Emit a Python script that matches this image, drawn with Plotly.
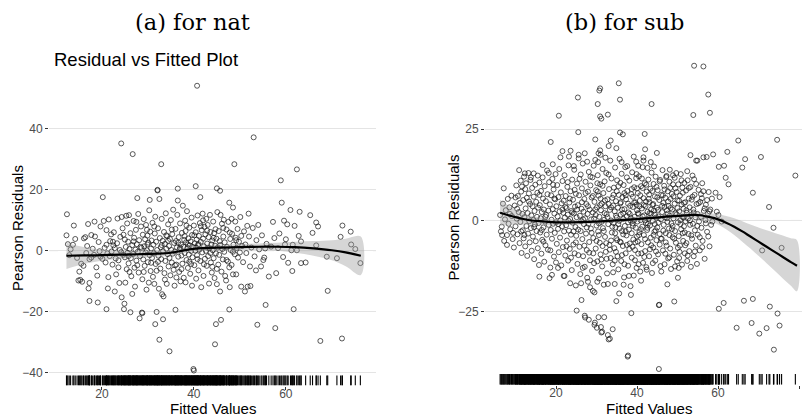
import plotly.graph_objects as go

# ---- national model: (fitted value, Pearson residual) ----
nat_points = [
    (12.3, 5.0), (12.4, 11.9), (12.6, 2.1), (12.9, -1.5), (13.2, 0.4), (13.7, 1.9), (13.9, 8.2), (14.2, 3.8),
    (14.6, -2.4), (14.9, -9.8), (15.1, -6.9), (15.3, -9.6), (15.5, -4.3), (15.7, -10.2),
    (16.0, -5.0), (16.1, 4.0), (16.4, 4.4), (16.6, -0.8), (16.8, 1.5), (17.0, 8.7), (17.1, -12.4), (17.3, -10.6),
    (17.3, -16.5), (17.3, -2.8), (17.7, -2.3), (17.7, 5.1), (18.0, 0.6), (18.3, -1.4), (18.4, 9.5), (18.5, 4.6),
    (18.8, -5.5), (19.0, -8.2), (19.1, -17.0), (19.3, 2.8), (19.5, -0.2), (19.7, 7.9), (19.7, -2.0), (20.1, -2.7),
    (20.2, 17.5), (20.4, 9.7), (20.6, 0.9), (20.8, -3.9), (21.0, 6.7), (21.0, 1.9), (21.0, -19.2),
    (21.2, -0.9), (21.3, -12.4), (21.4, -8.7), (21.5, 10.2), (21.7, -1.8), (21.8, 3.1), (22.0, 5.3), (22.1, -0.3),
    (22.3, -4.6), (22.5, 1.7), (22.6, 6.0), (22.8, -13.4), (22.8, 0.8), (23.0, -2.6), (23.1, -7.8), (23.3, 2.4),
    (23.4, 10.5), (23.6, -3.2), (23.8, -10.6), (23.9, 0.2), (24.0, 4.5), (24.2, 35.1), (24.2, -0.5), (24.3, 11.0),
    (24.3, -15.3), (24.5, 7.3), (24.6, -1.4), (24.8, -19.2), (24.9, -17.4), (25.0, -2.2), (25.0, 3.6), (25.1, -10.5),
    (25.2, 1.2), (25.3, 11.4), (25.4, -6.1),
    (25.5, 8.9), (25.6, -0.7), (25.7, 2.9), (25.8, -4.2), (25.9, 11.6), (26.0, 0.5), (26.2, -20.2), (26.2, 5.7),
    (26.3, -2.5), (26.4, -8.4), (26.6, -14.2), (26.6, 1.8), (26.7, 31.6), (26.8, -1.1), (26.9, 9.7), (27.0, 4.2),
    (27.1, -5.6), (27.2, -11.8), (27.3, 0.3), (27.4, 6.8), (27.5, -3.3), (27.6, 2.1), (27.7, 17.2), (27.8, -0.4),
    (27.9, 12.0), (28.0, -7.2), (28.1, 3.4), (28.2, -22.2), (28.3, -1.8), (28.5, 7.9), (28.6, 0.9), (28.7, -20.3),
    (28.8, -20.5), (28.8, -9.4), (28.9, 5.2), (29.0, -2.9), (29.1, 10.3), (29.2, 1.4), (29.3, -5.0), (29.4, 3.7),
    (29.5, -0.6), (29.6, 8.4), (29.7, -12.8), (29.8, 0.1), (29.9, 4.9), (30.0, -3.8), (30.1, 2.6), (30.2, -10.5),
    (30.3, 13.2), (30.4, 16.6), (30.4, -1.5), (30.5, 6.2), (30.6, -6.7), (30.7, 0.7), (30.8, 3.3), (30.9, -2.4),
    (31.0, 9.1), (31.1, -8.6), (31.2, 1.9), (31.3, -0.9), (31.4, -10.9), (31.5, 5.6), (31.6, -24.1), (31.6, 11.1),
    (31.7, -4.4), (31.8, 2.9), (31.9, -20.1), (32.0, 0.2), (32.1, 19.7), (32.1, 19.9), (32.2, 7.3), (32.3, -1.7),
    (32.4, -12.5), (32.5, 16.9), (32.5, -29.2), (32.6, 4.1), (32.7, -5.9), (32.8, 1.1), (32.9, 28.3), (32.9, -2.8),
    (33.0, 10.4), (33.1, -14.3), (33.2, 3.2), (33.3, -22.5), (33.3, -0.2), (33.4, -15.0),
    (33.5, 6.1), (33.6, -7.4), (33.7, 2.2), (33.8, -3.4), (33.9, 12.2), (34.0, 0.6), (34.1, -10.9), (34.2, 4.7),
    (34.3, -1.2), (34.4, 8.6), (34.5, -5.2), (34.6, 1.5), (34.7, -33.0), (34.7, -2.4), (34.8, 3.8), (34.9, -8.1),
    (35.0, 10.0), (35.1, 0.2), (35.2, -3.9), (35.3, 5.4), (35.4, -1.0), (35.5, 13.4), (35.6, -6.3), (35.7, 2.5),
    (35.8, -11.5), (35.9, -0.3), (36.0, -19.4), (36.0, 7.1), (36.1, 3.1), (36.2, -4.6), (36.3, 1.0), (36.4, 11.7),
    (36.5, 20.3), (36.5, 16.4), (36.6, -2.0), (36.7, 4.4), (36.8, -7.0), (36.9, 0.4), (37.0, 8.9), (37.1, -10.1),
    (37.2, 2.0), (37.3, -1.6), (37.4, 5.8), (37.5, -4.3), (37.6, 14.7), (37.7, 1.3), (37.8, -8.9), (37.9, 3.5),
    (38.0, -0.8), (38.1, 9.8),
    (38.2, -10.4), (38.2, 6.4), (38.3, 2.7), (38.4, -3.1), (38.5, 12.9), (38.6, 0.9), (38.7, -5.7), (38.8, 4.0),
    (38.9, -1.3), (39.0, 7.5), (39.1, 1.7), (39.2, -7.6), (39.3, 3.0), (39.4, -0.1), (39.5, 10.8), (39.6, -11.5),
    (39.6, 5.1), (39.7, -2.2), (39.8, 1.2), (39.9, -38.8), (40.0, -39.3), (40.0, 8.2), (40.1, -4.8), (40.2, 2.4),
    (40.3, 0.0), (40.4, 21.1), (40.4, 6.0), (40.5, -9.2), (40.6, 3.6), (40.7, 54.0), (40.7, -1.5), (40.8, 11.5),
    (40.9, 1.8), (41.0, -6.5), (41.1, 4.8), (41.2, 0.3), (41.3, 9.0), (41.4, 17.5), (41.4, -3.4), (41.5, 2.9),
    (41.6, -12.0), (41.7, 6.7), (41.8, -0.6), (41.9, 12.1), (42.0, 3.9), (42.1, -8.3), (42.2, 1.4), (42.3, 7.8),
    (42.4, -2.7), (42.5, 5.3),
    (42.6, -0.1), (42.7, 10.4), (42.8, -5.0), (42.9, 2.3), (43.0, 8.4), (43.1, -1.8), (43.2, 4.4), (43.3, -10.8),
    (43.4, 0.8), (43.5, 11.7), (43.6, 6.1), (43.7, -3.9), (43.8, 2.0), (43.9, -7.2), (44.0, 3.3), (44.1, 0.1),
    (44.2, 9.5), (44.3, -2.5), (44.4, 5.7), (44.5, -9.0), (44.6, -30.7), (44.6, 1.6), (44.7, 7.0), (44.8, -24.1),
    (44.8, -0.9), (44.9, 3.9), (45.0, 20.4), (45.0, -11.0), (45.1, 12.6), (45.2, 1.0), (45.3, -4.6), (45.4, 6.4),
    (45.5, -1.4), (45.6, 3.1), (45.7, 19.6), (45.7, -13.4), (45.8, 11.7), (45.9, -22.7), (46.0, -6.9), (46.1, 8.8),
    (46.2, 0.5), (46.3, -2.9), (46.4, 4.6), (46.5, 10.1), (46.6, -0.4),
    (46.7, 2.7), (46.8, -8.3), (47.0, -9.8), (47.1, 6.9), (47.2, 1.2), (47.4, -3.6), (47.5, 9.4), (47.7, 15.7),
    (47.7, -5.5), (47.7, -19.3), (47.8, -12.0), (47.9, 3.8), (48.0, 0.2), (48.2, 10.4), (48.2, -4.7), (48.3, 5.5),
    (48.5, 14.1), (48.5, -7.8), (48.6, 1.9), (48.8, 28.3), (48.9, -1.2), (49.0, 9.5), (49.1, 4.2), (49.2, -7.8),
    (49.3, 0.9), (49.5, 7.1), (49.6, -2.3), (49.8, 2.9), (50.0, -0.6), (50.1, 11.0), (50.3, -11.8), (50.3, 4.8),
    (50.5, 1.5),
    (50.7, -3.8), (50.9, 6.3), (51.1, -13.4), (51.2, 2.0), (51.4, -0.8), (51.6, 8.1), (51.7, -11.8), (51.9, 12.1),
    (52.0, 4.6), (52.2, -5.2), (52.3, -11.6), (52.5, 1.0), (52.8, 7.4), (53.0, 37.1), (53.2, -1.9), (53.5, -6.5),
    (53.6, 3.4), (53.8, -24.3), (54.0, 8.4), (54.2, 0.4), (54.6, -5.2), (54.8, 5.0), (55.1, -3.1), (55.3, -2.3),
    (55.5, 0.7), (55.6, -17.8), (55.8, 2.2),
    (56.3, -8.5), (56.8, 1.3), (57.2, 9.4), (57.5, 4.1), (57.7, -25.4), (57.9, -7.4), (58.3, 0.8), (58.6, 5.6),
    (58.9, 23.0), (59.1, 15.7), (59.4, -2.1), (59.6, 9.8), (59.8, 2.0), (60.0, 3.7), (60.3, 8.6), (60.5, -4.0),
    (61.0, 13.3), (61.2, 0.1), (61.4, -6.7), (61.5, 1.9), (61.7, -19.2), (61.9, 8.1), (62.4, 26.6), (62.4, 0.1),
    (62.8, 4.8),
    (63.0, 12.7), (63.3, 3.0), (63.3, -4.1), (64.3, -3.9), (65.3, 11.6), (65.8, 5.8), (66.6, 9.2), (66.6, 1.7),
    (67.0, 7.9), (67.5, -29.6), (68.9, -2.0), (69.1, -13.2), (71.1, -2.5), (71.9, 4.5), (72.2, -28.8), (72.3, 8.2),
    (74.1, 6.2), (74.2, 2.0), (75.1, 0.5), (76.2, -4.1),
    (22.4, 2.9), (23.6, -5.5), (24.7, 5.2), (25.8, -1.8), (26.9, 3.0), (27.7, -4.8), (28.4, 1.2), (29.1, -7.0),
    (29.9, 2.0), (30.7, -4.0), (31.4, 7.9), (32.2, -3.7), (33.0, 1.8), (33.7, -9.5), (34.4, 3.2), (35.2, 6.9),
    (35.9, -4.8), (36.6, 2.6), (37.3, -6.1), (38.0, 4.7), (38.7, 2.0), (39.4, -4.4), (40.1, 5.0), (40.8, -2.8),
    (41.5, 8.0), (42.2, -4.5), (42.9, 6.5), (43.6, -0.8), (44.3, 4.2), (45.0, -6.0), (45.7, 1.8), (46.4, 7.4),
    (47.1, -3.1), (47.8, 5.9), (48.5, -0.4), (49.2, 3.4), (43.0, 0.9), (41.0, 2.1), (39.0, -3.7), (37.0, 0.9),
    (44.0, -5.3), (42.0, 9.9), (40.5, 1.0), (38.4, 8.2), (36.2, -8.8), (34.0, 5.0), (31.9, -6.6), (29.8, 6.8),
    (27.5, 9.4), (26.0, -7.0),
]

# ---- subnational model: (fitted value, Pearson residual) ----
sub_points = [
    (6.2, 1.5), (6.4, -3.0), (6.6, -1.7), (6.7, -4.0), (6.9, 4.6), (7.1, 8.8), (7.2, -5.6), (7.4, 0.3),
    (7.6, 2.8), (7.9, -4.0), (7.9, -6.7), (8.1, 5.9), (8.3, -0.9), (8.5, 3.6), (8.7, -2.4), (9.0, 6.8),
    (9.1, 1.2), (9.3, -5.1), (9.6, -7.4), (9.8, 4.1), (10.0, 6.3), (10.0, -1.6), (10.2, 9.6), (10.3, 0.5),
    (10.5, -3.8), (10.6, 6.7), (10.8, 2.3), (10.9, 13.8),
    (11.0, -6.2), (11.1, 4.8), (11.2, -0.4), (11.3, 10.9), (11.4, 7.9), (11.5, -8.9), (11.6, 9.3), (11.7, 1.8),
    (11.8, -2.7), (11.9, 5.6), (12.0, -4.9), (12.1, 12.0), (12.2, 0.9), (12.3, 12.9), (12.4, 8.6), (12.4, -7.1),
    (12.5, 3.3), (12.6, 10.2), (12.7, -1.5), (12.8, 6.2), (12.9, -9.7), (13.0, 2.0), (13.1, -3.6), (13.2, 13.0),
    (13.3, 7.4), (13.4, -0.2), (13.5, -6.0), (13.6, 4.5), (13.7, 11.1), (13.8, 11.8), (13.8, -2.1), (13.9, 1.4),
    (14.0, -8.3), (14.1, 8.9), (14.2, 3.9), (14.3, -4.4), (14.4, 0.1), (14.5, 12.9), (14.5, 6.5), (14.6, -10.6),
    (14.7, 2.6), (14.8, -1.1), (14.9, 9.8), (15.0, -5.7), (15.1, 5.1), (15.2, -2.9), (15.3, 1.0), (15.4, 7.6),
    (15.5, 12.3), (15.5, -7.6), (15.6, 3.5), (15.7, -0.7), (15.8, -12.2), (15.9, -15.4), (15.9, 10.4),
    (16.0, 4.2), (16.1, -3.3), (16.2, 0.6), (16.3, 8.1), (16.4, -9.1), (16.5, 2.3), (16.6, -5.3), (16.7, 15.2),
    (16.7, 11.8), (16.8, 6.0), (16.9, -1.9), (17.0, 3.0), (17.1, -11.3), (17.2, 9.4), (17.3, -0.3), (17.4, -6.8),
    (17.5, 5.3), (17.6, 1.5), (17.7, -3.9), (17.8, 13.7), (17.9, 7.2), (18.0, -8.0), (18.1, 2.7), (18.2, -1.2),
    (18.3, 10.5), (18.4, -15.8), (18.5, 4.4), (18.6, -12.9), (18.7, 21.5), (18.7, -2.6), (18.8, 6.9), (18.9, 0.2),
    (19.0, -14.9), (19.0, -5.0), (19.1, 11.4), (19.2, 15.4), (19.2, 3.1), (19.3, -0.9), (19.4, 8.5), (19.5, -9.9),
    (19.6, 1.9), (19.7, -3.4), (19.8, 5.8), (19.9, 12.7), (20.0, -11.5), (20.0, -0.5), (20.1, 3.9), (20.2, -6.4),
    (20.3, 9.7), (20.4, 1.1), (20.5, -2.3), (20.6, 6.4), (20.7, 28.7), (20.7, -8.7), (20.8, 14.1), (20.9, 2.5),
    (21.0, -4.7), (21.1, 17.3), (21.1, 0.0), (21.2, 7.7), (21.3, -12.3), (21.4, 4.7), (21.5, -1.6), (21.6, 19.0),
    (21.6, 10.8), (21.7, -7.3), (21.8, 2.1), (21.9, -15.2), (21.9, 5.4), (22.0, -3.0),
    (22.1, -15.2), (22.1, 12.4), (22.2, 0.8), (22.3, -9.6), (22.4, 6.7), (22.5, -1.3), (22.6, 3.4), (22.7, -5.5),
    (22.8, 9.2), (22.9, 1.6), (23.0, -11.0), (23.1, 15.1), (23.2, 17.5), (23.2, -2.8), (23.3, 4.9), (23.4, -7.8),
    (23.5, -17.2), (23.5, 0.4), (23.6, 19.1), (23.6, 8.0), (23.7, -3.9), (23.8, 2.6), (23.9, -13.6), (24.0, 11.2),
    (24.1, -0.6), (24.2, 5.7), (24.3, -6.6), (24.4, 1.9), (24.5, 13.9), (24.6, -9.0), (24.7, 3.8), (24.8, -1.8),
    (24.9, -17.8), (24.9, 7.3), (25.0, -4.2), (25.1, -24.7), (25.1, 0.9), (25.2, 10.1), (25.3, -11.9), (25.4, 33.7),
    (25.4, 4.2), (25.5, 24.2), (25.5, -2.5), (25.6, 18.0), (25.6, 17.0), (25.7, 6.9), (25.8, -7.2), (25.9, 1.3),
    (26.0, -14.7), (26.1, 12.6), (26.2, -17.2), (26.2, -0.2), (26.3, -21.8), (26.3, 3.2), (26.4, 8.8), (26.5, -5.1),
    (26.6, 15.6), (26.7, -9.8), (26.8, 2.4), (26.9, -1.0), (27.0, 5.9), (27.1, 18.4), (27.1, -26.1), (27.1, -12.7),
    (27.2, -26.6), (27.2, 0.6), (27.3, 10.6), (27.4, -3.6), (27.5, 4.5), (27.6, -8.1), (27.7, 16.1), (27.7, -15.7),
    (27.8, 1.8), (27.9, -16.8), (27.9, 7.9), (28.0, -0.9), (28.1, -27.2), (28.1, 13.3), (28.2, -5.9), (28.3, 3.0),
    (28.4, -10.9), (28.5, 9.6), (28.6, -2.2), (28.7, 0.3), (28.8, 6.3),
    (28.9, -13.8), (29.0, 11.8), (29.1, -19.3), (29.1, 2.2), (29.2, -4.8), (29.3, 15.0), (29.4, 0.5), (29.5, -19.7),
    (29.5, -28.6), (29.5, 5.1), (29.6, -28.0), (29.7, 22.2), (29.7, 16.6), (29.8, -7.7), (29.9, 8.3), (30.0, -1.4),
    (30.1, -29.4), (30.1, 3.6), (30.2, -11.2), (30.3, 31.9), (30.3, 12.4), (30.4, 16.0), (30.4, -3.0), (30.5, -26.5),
    (30.5, 18.4), (30.5, 6.8), (30.6, -15.9), (30.7, 35.6), (30.7, 1.0), (30.8, -6.1), (30.9, 36.2), (30.9, 28.5),
    (30.9, 19.2), (30.9, 9.9), (31.0, 18.0), (31.0, -9.3), (31.1, -29.2), (31.1, 2.8), (31.2, 27.9), (31.2, -30.7),
    (31.2, -0.4), (31.3, 4.6), (31.4, -30.5), (31.4, -12.6), (31.5, 14.1), (31.6, -2.1), (31.7, 7.5), (31.8, -17.6),
    (31.9, -26.5), (31.9, 0.2), (32.0, 10.7), (32.1, -4.5), (32.2, 3.9), (32.3, -8.6), (32.4, 13.0), (32.5, 1.7),
    (32.6, -14.5), (32.7, 5.8), (32.8, 29.0), (32.8, -31.4), (32.8, -17.4), (32.9, -1.0), (33.0, 20.4), (33.0, -32.6),
    (33.1, 8.6), (33.2, -6.7), (33.3, -32.4), (33.3, 2.9), (33.4, 16.4), (33.5, 21.9), (33.5, -10.3), (33.6, 0.0),
    (33.7, 11.5), (33.8, -3.3), (33.9, 6.2), (34.0, -29.8), (34.0, -12.0), (34.1, 4.1), (34.2, -0.7),
    (29.2, -9.0), (29.8, 1.5), (30.2, 10.2), (30.6, -4.0), (31.0, 6.0), (31.5, -7.0), (32.0, 2.0), (32.5, -10.5),
    (33.0, 4.5), (33.6, -5.5),
    (34.3, 9.0), (34.4, -7.6), (34.5, -17.4), (34.5, 2.5), (34.6, 14.5), (34.7, -1.9), (34.8, 5.3), (34.9, -22.1),
    (34.9, 19.8), (34.9, -4.9), (35.0, 0.8), (35.1, 11.0), (35.2, -9.8), (35.3, 3.5), (35.4, -13.4), (35.5, 37.6),
    (35.5, 7.0), (35.6, -20.0), (35.6, -0.1), (35.7, 16.9), (35.8, 33.1), (35.8, 24.1), (35.8, -5.8), (35.9, 4.7),
    (36.0, 1.6), (36.1, -11.1), (36.2, 12.8), (36.3, -2.9), (36.4, 6.4), (36.5, 23.6), (36.5, -7.0), (36.6, 0.4),
    (36.7, 9.7), (36.8, -15.6), (36.9, 3.1), (37.0, -1.5), (37.1, 14.6), (37.2, -9.0), (37.3, 5.8), (37.4, -4.1),
    (37.5, 1.2), (37.6, 14.9), (37.6, 8.1), (37.7, -37.3), (37.8, -37.0), (37.8, -12.4), (37.9, 2.2), (38.0, -2.5),
    (38.1, 10.9), (38.2, -6.3), (38.3, 4.0), (38.4, -18.0), (38.5, -20.4), (38.5, 0.6), (38.6, -25.4), (38.6, 7.2),
    (38.7, -10.2), (38.8, 13.2), (38.9, -0.8), (39.0, 3.7), (39.1, -5.2), (39.2, -15.1), (39.2, 17.5), (39.3, 9.1),
    (39.4, 1.0), (39.5, -8.1), (39.6, 5.0), (39.7, -2.0), (39.8, 16.1), (39.8, 11.6), (39.9, -13.0), (40.0, 2.8),
    (40.0, -4.4),
    (34.6, -3.5), (35.0, 8.0), (35.4, -1.0), (36.0, -6.0), (36.3, 3.0), (36.9, -12.0), (37.2, 6.9), (37.8, -0.5),
    (38.2, 1.8), (38.7, -3.5), (39.0, 6.5), (39.5, -10.9), (40.0, 8.8), (34.8, -8.6), (35.9, 10.3), (36.6, -3.8),
    (37.5, -6.7), (38.9, -7.2), (39.3, 0.1), (39.9, 4.3),
    (40.1, -0.3), (40.2, 7.5), (40.3, -9.1), (40.4, 1.8), (40.5, 12.1), (40.6, -3.2), (40.7, 5.4), (40.8, -14.0),
    (40.9, 0.1), (41.0, 9.4), (41.1, -6.5), (41.2, 3.3), (41.3, -1.7), (41.4, 14.6), (41.5, -11.6), (41.6, 17.3),
    (41.6, 16.4), (41.6, 6.1), (41.7, -4.0), (41.8, 1.4), (41.9, 23.7), (41.9, 10.2), (42.0, 19.5), (42.0, -8.4),
    (42.1, 3.9), (42.2, -0.7), (42.3, -12.8), (42.4, 7.9), (42.5, -2.6), (42.6, 14.4), (42.6, 2.4), (42.7, -6.0),
    (42.8, 11.2), (42.9, 0.5), (43.0, -9.8), (43.1, 5.0), (43.2, -1.4), (43.3, 8.7), (43.4, -4.7), (43.5, 1.9),
    (43.6, 31.9), (43.6, 13.1), (43.7, -14.4), (43.8, 4.3), (43.9, -0.1), (44.0, -7.4), (44.1, 10.0), (44.2, 2.7),
    (44.3, -3.1), (44.4, 6.6), (44.5, -11.0), (44.6, 12.0), (44.7, 0.8), (44.8, -5.4), (44.9, 18.5), (44.9, 3.5),
    (45.0, -1.9), (45.1, 8.3), (45.2, -9.3), (45.3, 1.1), (45.4, -23.2), (45.4, -40.7), (45.5, -23.1), (45.5, 5.6),
    (45.6, -3.7), (45.7, 11.1), (45.8, -12.5), (45.9, 0.3), (46.0, 7.0),
    (40.2, -5.8), (40.6, 3.9), (41.0, -2.4), (41.4, 8.9), (41.8, -10.0), (42.2, 5.2), (42.7, -0.9), (43.1, 2.0),
    (43.5, -6.8), (44.0, 4.5), (44.4, -1.0), (44.8, 9.2), (45.2, 2.9), (45.6, -6.6), (40.4, -12.0), (41.2, 11.5),
    (42.0, 0.0), (43.0, 7.1), (43.9, -11.7), (44.6, -2.7),
    (46.1, -5.0), (46.2, 2.3), (46.3, 13.8), (46.4, -8.2), (46.5, 4.8), (46.6, -1.2), (46.7, 9.5), (46.8, -12.0),
    (46.9, 0.9), (47.0, 6.2), (47.1, -3.5), (47.2, 11.9), (47.3, 12.2), (47.3, -6.9), (47.4, 2.8), (47.5, -17.5),
    (47.5, -0.4), (47.6, 8.0), (47.7, -10.4), (47.8, 4.0), (47.9, -2.2), (48.0, 10.6), (48.1, 1.3), (48.2, -7.7),
    (48.3, 5.9), (48.4, -13.3), (48.5, -0.8), (48.6, 7.3), (48.7, 3.0), (48.8, -4.6), (48.9, 12.4), (49.0, 0.6),
    (49.1, -9.4), (49.2, -22.2), (49.3, 11.7), (49.3, 4.6), (49.4, -2.9), (49.5, 8.8), (49.6, -6.1), (49.7, 13.0),
    (49.8, 1.7), (49.9, -11.2), (50.0, 5.5), (50.1, -15.7), (50.1, -0.5), (50.2, 9.9), (50.3, -4.3), (50.4, 2.5),
    (50.5, -8.6), (50.6, 6.8), (50.7, 0.1), (50.8, 12.7), (50.9, -2.4), (51.0, 4.4), (51.1, -12.1), (51.2, 1.0),
    (51.3, 7.6), (51.4, -5.6), (51.5, 3.2), (51.6, -1.6), (51.7, 10.3), (51.8, -9.0), (51.9, 5.0), (52.0, -0.2),
    (46.4, 6.9), (47.0, -9.1), (47.6, 1.9), (48.2, 8.9), (48.8, -1.5), (49.4, -12.6), (50.0, 3.4), (50.6, -6.9),
    (51.2, 9.0), (51.8, -3.3), (46.8, 3.7), (48.0, -4.0), (49.0, 6.6), (50.4, -10.3), (51.5, 0.8),
    (52.1, 8.2), (52.2, -6.2), (52.3, 2.1), (52.4, -11.1), (52.5, 11.0), (52.6, 0.5), (52.7, -3.7), (52.8, 6.0),
    (52.9, -8.4), (53.0, 3.6), (53.1, -1.2), (53.2, 17.9), (53.2, 9.2), (53.3, -12.7), (53.4, 1.5), (53.5, 5.7),
    (53.6, -5.0), (53.7, 12.3), (53.8, -0.9), (53.9, 28.9), (53.9, 3.0), (54.0, -9.8), (54.1, 11.3), (54.1, 42.4),
    (54.2, 7.0), (54.3, -2.7), (54.4, 0.9), (54.5, -6.9), (54.6, 16.4), (54.7, 4.5), (54.8, -11.9), (54.9, 16.4),
    (54.9, 1.8), (55.0, -3.9), (55.2, 8.4), (55.3, -0.3), (55.5, -8.2), (55.6, 5.1), (55.8, 7.2), (55.9, -2.0),
    (56.0, 6.1), (56.1, 10.2), (56.2, -5.6), (56.4, 17.3), (56.4, 42.2), (56.5, 2.6), (56.7, -10.5), (56.9, 0.1),
    (57.0, 4.3), (57.2, 17.4), (57.3, -3.1), (57.5, 1.9), (57.6, 34.5), (57.7, 7.8), (57.9, -7.1), (58.0, 29.5),
    (58.1, 3.0), (58.3, -1.2), (58.5, 6.0), (58.6, -0.3), (58.8, 18.1),
    (59.4, 7.6), (59.7, 2.4), (60.1, 1.5), (60.2, 14.7), (60.2, -24.2), (60.4, 6.4), (60.9, -0.3), (61.4, -22.6),
    (61.5, 15.0), (61.9, 11.7), (62.3, 18.8), (62.6, 9.9), (64.6, -29.4), (65.0, 21.9), (66.0, 14.5), (66.4, -22.0),
    (66.7, 16.8), (68.3, -28.1), (68.6, 7.6), (68.6, -21.5), (70.2, -31.0), (70.6, 17.4), (70.9, -8.2), (72.0, -29.5),
    (72.6, 3.7), (72.8, -23.6), (73.7, -2.0), (73.8, -35.4), (74.6, 22.1), (74.7, -25.5), (75.2, -28.8), (75.7, -7.5),
    (79.1, 12.3),
    (22.3, 3.7), (22.6, -7.1), (22.9, 10.5), (23.1, -0.1), (23.4, 6.0), (23.7, -10.2), (24.0, 2.2), (24.3, -3.0),
    (24.6, 8.4), (24.9, -6.0), (25.2, 3.0), (25.5, -9.5), (25.8, 11.4), (26.1, -2.9), (26.4, 5.0), (26.7, 0.3),
    (27.0, -6.9), (27.3, 7.5), (27.6, -1.9), (27.9, 3.9), (28.2, -8.8), (28.5, 12.0), (28.8, -3.4), (29.1, 6.7),
    (29.4, -11.7), (29.7, 3.0), (30.0, -5.6), (30.3, 7.9), (30.6, -0.8), (30.9, 4.2), (31.2, -10.7), (31.5, 9.5),
    (31.8, -2.9), (32.1, 5.5), (32.4, -6.2), (32.7, 0.9), (33.0, 12.6), (33.3, -8.0), (33.6, 3.6), (33.9, -1.7),
    (34.2, 7.0), (34.5, -11.0), (34.8, 1.3), (35.1, -5.4), (35.4, 9.4), (35.7, -2.2), (36.0, 5.0), (36.3, -9.5),
    (36.6, 2.0), (36.9, 7.5), (37.2, -3.0), (37.5, 11.8), (37.8, 4.6), (38.1, -7.8), (38.4, 0.0), (38.7, 8.6),
    (39.0, -1.5), (39.3, 4.9), (39.6, -6.0), (39.9, 12.7), (40.2, 2.0), (40.5, -4.0), (40.8, 6.9), (41.1, -9.0),
    (41.4, 1.1), (41.7, 4.2), (42.0, -5.1), (42.3, 9.8), (42.6, -2.0), (42.9, 5.9), (43.2, -7.9), (43.5, 3.0),
    (43.8, 8.1), (44.1, -4.0), (44.4, 1.6), (44.7, -8.5), (45.0, 6.3), (45.3, -0.6), (45.6, 10.7), (45.9, -5.0),
    (46.2, 4.0), (46.5, -2.8), (46.8, 8.5), (47.1, -6.0), (47.4, 0.6), (47.7, 5.2), (48.0, -10.1), (48.3, 3.4),
    (48.6, -2.4), (48.9, 9.9), (49.2, -5.0), (49.5, 2.0), (49.8, 7.8), (50.1, -7.5), (50.4, 5.4), (50.7, -1.0),
    (51.0, 11.0), (51.3, -3.5), (51.6, 4.8), (51.9, -6.8), (52.2, 2.8), (52.5, -9.6), (52.8, 8.9), (53.1, 0.0),
    (53.4, -4.1), (53.7, 6.5), (54.0, 2.2), (54.3, -8.5), (54.6, 10.0), (54.9, -1.5), (55.2, 4.7), (55.5, -4.6),
    (55.8, 1.0), (56.1, -7.3), (56.4, 8.0), (56.7, 3.3), (57.0, -0.8), (57.3, 5.6), (57.6, -4.4), (57.9, 2.5),
    (34.1, -14.2), (36.2, 16.0), (38.0, -15.2), (40.3, 15.0), (42.4, -13.5), (44.2, 14.8), (46.0, -14.0), (48.1, 13.9),
    (50.3, -13.0), (52.4, 13.5), (30.2, -16.8), (32.2, 17.2), (26.6, -13.0), (24.4, 14.9), (28.4, -18.3), (36.7, -17.6),
    (41.0, -16.5), (43.4, 16.0), (20.5, -13.0), (18.2, 13.0), (12.2, -4.0), (13.3, 5.2), (14.6, -1.8), (15.9, 7.0),
    (16.5, -2.6), (17.4, 1.0), (18.6, -8.2), (19.6, 6.0), (20.6, -1.0), (21.6, 3.0), (8.6, 1.8), (9.4, -3.4),
    (10.4, 3.2), (11.4, -3.0), (16.9, -5.8), (19.3, 9.8),
]

# ---- loess smooths with their standard-error bands ----
nat_smooth_x = [12.3, 16, 20, 24, 28, 32, 35, 37, 39, 42, 46, 50, 54, 58, 62, 66, 70, 73, 76.3]
nat_smooth_fit = [-1.7, -1.6, -1.5, -1.35, -1.2, -1.0, -0.7, -0.2, 0.4, 0.8, 1.0, 1.15, 1.25, 1.25, 1.1, 0.7, 0.1, -0.6, -1.7]
nat_smooth_se = [4.3, 2.8, 1.8, 1.3, 1.1, 1.0, 0.9, 0.9, 0.9, 0.9, 1.0, 1.0, 1.1, 1.3, 1.8, 2.4, 3.3, 4.5, 6.3]

sub_smooth_x = [6.2, 8, 10, 12, 14, 16, 18, 20, 24, 28, 32, 36, 40, 44, 48, 52, 55, 58, 60, 62, 64, 66, 68, 70, 72, 74, 76, 78, 79.5]
sub_smooth_fit = [2.1, 1.5, 0.9, 0.4, 0.0, -0.2, -0.4, -0.5, -0.5, -0.4, -0.2, 0.1, 0.4, 0.7, 1.1, 1.4, 1.5, 0.9, 0.3, -0.6, -1.7, -3.0, -4.4, -5.8, -7.2, -8.6, -10.0, -11.4, -12.4]
sub_smooth_se = [3.6, 2.8, 2.1, 1.6, 1.2, 1.0, 0.9, 0.8, 0.7, 0.6, 0.6, 0.6, 0.6, 0.6, 0.7, 0.8, 0.9, 1.1, 1.4, 1.8, 2.3, 2.8, 3.3, 3.9, 4.5, 5.2, 5.9, 6.5, 7.0]

nat_yticks = [-40, -20, 0, 20, 40]
sub_yticks = [-25, 0, 25]
x_ticks = [20, 40, 60, 80]

W, H = 802, 418
SANS = "Liberation Sans, Arial, Helvetica, sans-serif"
SERIF = "DejaVu Serif, Liberation Serif, serif"
RUG_LEN = 0.032


def px_x(p):
    return p / W


def px_y(p):
    return 1 - p / H


fig = go.Figure()


def add_panel(points, sm_x, sm_fit, sm_se, xa, ya, rug_ya):
    fx = [p[0] for p in points]
    fr = [p[1] for p in points]
    fig.add_trace(go.Scatter(
        x=fx, y=fr, mode="markers", xaxis=xa, yaxis=ya, showlegend=False, hoverinfo="skip",
        marker=dict(symbol="circle-open", size=5, color="rgba(20,20,20,0.78)", line=dict(width=0.9)),
    ))
    upper = [f + s for f, s in zip(sm_fit, sm_se)]
    lower = [f - s for f, s in zip(sm_fit, sm_se)]
    fig.add_trace(go.Scatter(
        x=sm_x + sm_x[::-1], y=upper + lower[::-1], mode="lines", fill="toself",
        fillcolor="rgba(153,153,153,0.4)", line=dict(width=0, shape="spline"),
        xaxis=xa, yaxis=ya, showlegend=False, hoverinfo="skip",
    ))
    fig.add_trace(go.Scatter(
        x=sm_x, y=sm_fit, mode="lines", line=dict(color="black", width=2.2, shape="spline"),
        xaxis=xa, yaxis=ya, showlegend=False, hoverinfo="skip",
    ))
    # rug of fitted values along the bottom edge
    rx, ry = [], []
    for v in fx:
        rx += [v, v, None]
        ry += [0, RUG_LEN, None]
    fig.add_trace(go.Scatter(
        x=rx, y=ry, mode="lines", line=dict(color="black", width=1.1),
        xaxis=xa, yaxis=rug_ya, showlegend=False, hoverinfo="skip",
    ))


add_panel(nat_points, nat_smooth_x, nat_smooth_fit, nat_smooth_se, "x", "y", "y3")
add_panel(sub_points, sub_smooth_x, sub_smooth_fit, sub_smooth_se, "x2", "y2", "y4")

axis_common = dict(
    showline=False, zeroline=False, ticks="outside", ticklen=3, tickwidth=1, tickcolor="#333333",
    tickfont=dict(family=SANS, size=12, color="#4d4d4d"),
)
x_common = dict(axis_common, ticklabelstandoff=-6)

fig.update_layout(
    width=W, height=H, margin=dict(l=0, r=0, t=0, b=0),
    paper_bgcolor="white", plot_bgcolor="white", showlegend=False,
    xaxis=dict(domain=[px_x(49), px_x(376)], range=[8.5, 79.6], tickvals=x_ticks, showgrid=False,
               anchor="y", **x_common),
    yaxis=dict(domain=[px_y(385.5), px_y(71.4)], range=[-44.2, 58.7], tickvals=nat_yticks,
               showgrid=True, gridcolor="#e4e4e4", gridwidth=1, anchor="x", **axis_common),
    xaxis2=dict(domain=[px_x(485), 1.0], range=[2.47, 80.74], tickvals=x_ticks, showgrid=False,
                anchor="y2", **x_common),
    yaxis2=dict(domain=[px_y(384.7), px_y(50.4)], range=[-45, 46.6], tickvals=sub_yticks,
                showgrid=True, gridcolor="#e4e4e4", gridwidth=1, anchor="x2", **axis_common),
    yaxis3=dict(overlaying="y", range=[0, 1], visible=False, anchor="x"),
    yaxis4=dict(overlaying="y2", range=[0, 1], visible=False, anchor="x2"),
)

# dashed reference line at zero residual
for xr, yr in (("x", "y"), ("x2", "y2")):
    fig.add_shape(type="line", xref=f"{xr} domain", yref=yr, x0=0, x1=1, y0=0, y1=0,
                  line=dict(color="#bdbdbd", width=1, dash="dash"), layer="below")

annotations = [
    dict(text="(a) for nat", x=px_x(192), y=px_y(22), font=dict(family=SERIF, size=22.5, color="black")),
    dict(text="(b) for sub", x=px_x(624), y=px_y(22), font=dict(family=SERIF, size=22.5, color="black")),
    dict(text="Residual vs Fitted Plot", x=px_x(52), y=px_y(59), xanchor="left",
         font=dict(family=SANS, size=18.5, color="black")),
    dict(text="Fitted Values", x=px_x(212.5), y=px_y(408.5), font=dict(family=SANS, size=15, color="black")),
    dict(text="Fitted Values", x=px_x(648.5), y=px_y(408.5), font=dict(family=SANS, size=15, color="black")),
    dict(text="Pearson Residuals", x=px_x(18), y=px_y(228), textangle=-90,
         font=dict(family=SANS, size=15, color="black")),
    dict(text="Pearson Residuals", x=px_x(453), y=px_y(217.5), textangle=-90,
         font=dict(family=SANS, size=15, color="black")),
]
for a in annotations:
    a.setdefault("xanchor", "center")
    fig.add_annotation(xref="paper", yref="paper", showarrow=False, yanchor="middle", **a)

fig.write_html("out.html")
